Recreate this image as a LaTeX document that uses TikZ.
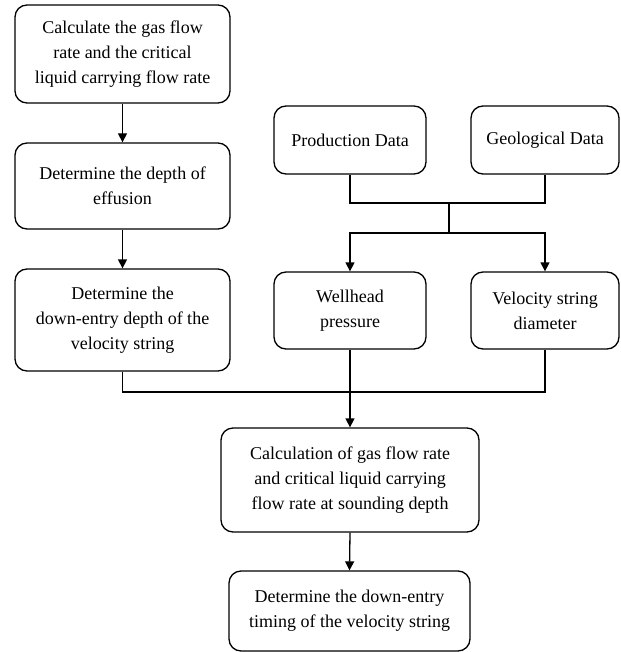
\documentclass[tikz,border=0pt]{standalone}
\usepackage{fontspec}
\setmainfont{Liberation Serif}
\newfontfamily\tnr{Liberation Serif}
\usetikzlibrary{arrows.meta}
\begin{document}
\begin{tikzpicture}[x=1pt,y=-1pt,
  box/.style={draw=black, line width=1.3pt, rounded corners=12pt, align=center, inner sep=0pt,
    font=\tnr\fontsize{18}{25}\selectfont, anchor=center},
  conn/.style={draw=black, line width=1.3pt},
  arr/.style={conn, -{Triangle[length=9pt,width=9pt]}}]
\useasboundingbox (0,0) rectangle (620,652);
\node[box, minimum width=215pt, minimum height=98pt] (b1) at (122.5,54) {Calculate the gas flow\\rate and the critical\\liquid carrying flow rate};
\node[box, minimum width=215pt, minimum height=86pt] (b2) at (122.5,186) {Determine the depth of\\effusion};
\node[box, minimum width=215pt, minimum height=102pt] (b3) at (122.5,320) {Determine the\\down-entry depth of the\\velocity string};
\node[box, minimum width=152pt, minimum height=68pt] (pd) at (350,140) {Production Data};
\node[box, minimum width=148pt, minimum height=68pt] (gd) at (545,140) {Geological Data};
\node[box, minimum width=152pt, minimum height=77pt] (wh) at (350,310.5) {Wellhead\\pressure};
\node[box, minimum width=148pt, minimum height=77pt] (vd) at (545,310.5) {Velocity string\\diameter};
\node[box, minimum width=258pt, minimum height=104pt] (calc) at (350,480) {Calculation of gas flow rate\\and critical liquid carrying\\flow rate at sounding depth};
\node[box, minimum width=241pt, minimum height=80pt] (fin) at (349.5,611) {Determine the down-entry\\timing of the velocity string};
\coordinate (j1) at (449,203);
\coordinate (j2) at (449,233);
\coordinate (j3) at (350,392);
\draw[arr] (b1.south) -- (b2.north);
\draw[arr] (b2.south) -- (b3.north);
\draw[conn] (pd.south) |- (j1) -| (gd.south);
\draw[conn] (j1) -- (j2);
\draw[arr] (j2) -| (wh.north);
\draw[arr] (j2) -| (vd.north);
\draw[conn] (b3.south) |- (j3) -| (vd.south);
\draw[arr] (wh.south) -- (calc.north);
\draw[arr] (calc.south) -- (fin.north);
\end{tikzpicture}
\end{document}
